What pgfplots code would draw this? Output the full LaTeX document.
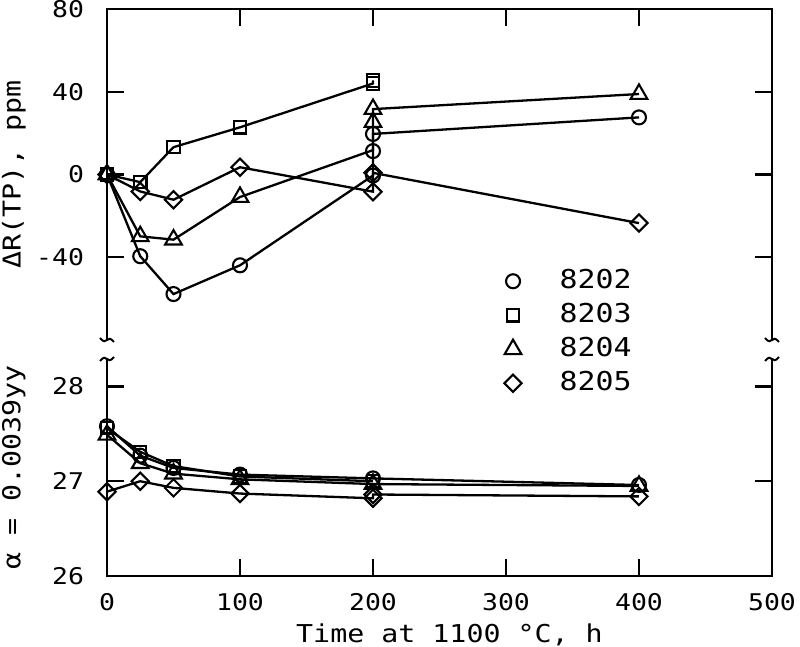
\documentclass[border=0pt]{standalone}
\usepackage{fontspec}
\setmainfont{DejaVu Sans Mono}[FakeStretch=1.15]
\usepackage{pgfplots}
\pgfplotsset{compat=1.18}
\tikzset{sqig/.style={line width=1pt}, frame/.style={line width=1.1pt, line cap=rect, line join=miter}}
\begin{document}
\begin{tikzpicture}
\useasboundingbox (0,0) rectangle (400pt,323.5pt);
\pgfplotsset{
  common/.style={
    scale only axis, width=332.5pt, xmin=0, xmax=500,
    axis line style={draw=none},
    tick style={line width=1.1pt, black},
    major tick length=8.5pt,
    tick align=inside,
    ytick pos=both,
    xtick={0,100,200,300,400,500},
    /pgf/number format/assume math mode=true,
    tick label style={font=\fontsize{11.5}{13}\selectfont},
    label style={font=\fontsize{12.3}{14}\selectfont},
    every axis plot/.append style={line width=1.15pt, black, mark options={solid, line width=1.05pt}},
    clip=false,
  },
  circ/.style={mark=o, mark size=3.5pt},
  sq/.style={mark=square, mark size=3.1pt},
  tri/.style={mark=triangle, mark size=4.8pt},
  dia/.style={mark=square, mark size=3.05pt, mark options={solid, line width=1.05pt, rotate=45}},
}
% ---------------- upper panel ----------------
\begin{axis}[common, at={(53.5pt,153.5pt)}, anchor=south west, height=165.5pt,
  ymin=-80, ymax=80, ytick={-40,0,40,80},
  xtick pos=right, xticklabels={},
  yticklabel pos=left,
  yticklabel shift=8pt,
  ylabel={ΔR(TP), ppm},
  ylabel style={at={(axis description cs:-0.14,0.5)}, anchor=center},
  legend style={draw=none, fill=none, at={(axis description cs:0.588,0.227)}, anchor=north west,
    font=\fontsize{13}{15}\selectfont, row sep=5pt, column sep=19pt,
    nodes={inner sep=0pt, text height=9.5pt, text depth=2.5pt}},
  legend cell align=left,
  legend image code/.code={\draw[#1] plot coordinates {(0pt,0pt)};},
]
\draw[frame] (axis description cs:0,0) -- (axis description cs:0,1) -- (axis description cs:1,1) -- (axis description cs:1,0);
\addlegendimage{only marks, circ, line width=1.05pt}
\addlegendimage{only marks, sq, line width=1.05pt}
\addlegendimage{only marks, tri, line width=1.05pt}
\addlegendimage{only marks, dia}
\legend{8202,8203,8204,8205}
% 8202
\addplot[circ, forget plot] coordinates {(0,0) (25,-39.5) (50,-57.8) (100,-43.9) (200,-0.5) (200,11.3) (200,19.6) (400,27.6)};
% 8203
\addplot[sq, forget plot] coordinates {(0,0) (25,-3.7) (50,13.2) (100,22.8) (200,44) (200,45.5)};
% 8204
\addplot[tri, forget plot, mark indices={1,2,3,4,6,7,8}] coordinates {(0,0) (25,-29.9) (50,-31.5) (100,-10.9) (200,11.8) (200,25.3) (200,31.6) (400,38.9)};
% 8205
\addplot[dia, forget plot] coordinates {(0,0) (25,-8.2) (50,-12.2) (100,3.5) (200,-8.3) (200,0.8) (400,-23.5)};
\end{axis}
% ---------------- lower panel ----------------
\begin{axis}[common, at={(53.5pt,35.5pt)}, anchor=south west, height=108.5pt,
  ymin=26, ymax=28.29, ytick={26,27,28},
  xtick pos=left,
  yticklabel pos=left,
  yticklabel shift=8pt,
  xticklabel shift=5pt,
  xlabel={Time at 1100 °C, h},
  xlabel style={xshift=5pt},
  ylabel={α = 0.0039yy},
  ylabel style={at={(axis description cs:-0.14,0.5)}, anchor=center},
]
\draw[frame] (axis description cs:0,1) -- (axis description cs:0,0) -- (axis description cs:1,0) -- (axis description cs:1,1);
% 8202
\addplot[circ] coordinates {(0,27.58) (25,27.27) (50,27.14) (100,27.07) (200,27.03) (400,26.96)};
% 8203
\addplot[sq] coordinates {(0,27.56) (25,27.31) (50,27.16) (100,27.05) (200,27.00)};
% 8204
\addplot[tri] coordinates {(0,27.49) (25,27.19) (50,27.08) (100,27.02) (200,26.97) (400,26.95)};
% 8205
\addplot[dia] coordinates {(0,26.89) (25,27.0) (50,26.93) (100,26.87) (200,26.82) (200,26.86) (400,26.84)};
\end{axis}
% axis break marks
\foreach \x in {53.5pt,386pt}{
  \draw[sqig] (\x-3.5pt,154.5pt) .. controls (\x-2pt,152.5pt) and (\x-0.5pt,152.5pt) .. (\x,153.5pt)
     .. controls (\x+0.5pt,154.5pt) and (\x+2pt,154.5pt) .. (\x+3.5pt,152.5pt);
  \draw[sqig] (\x-3.5pt,143pt) .. controls (\x-2pt,145pt) and (\x-0.5pt,145pt) .. (\x,144pt)
     .. controls (\x+0.5pt,143pt) and (\x+2pt,143pt) .. (\x+3.5pt,145pt);
}
\end{tikzpicture}
\end{document}
